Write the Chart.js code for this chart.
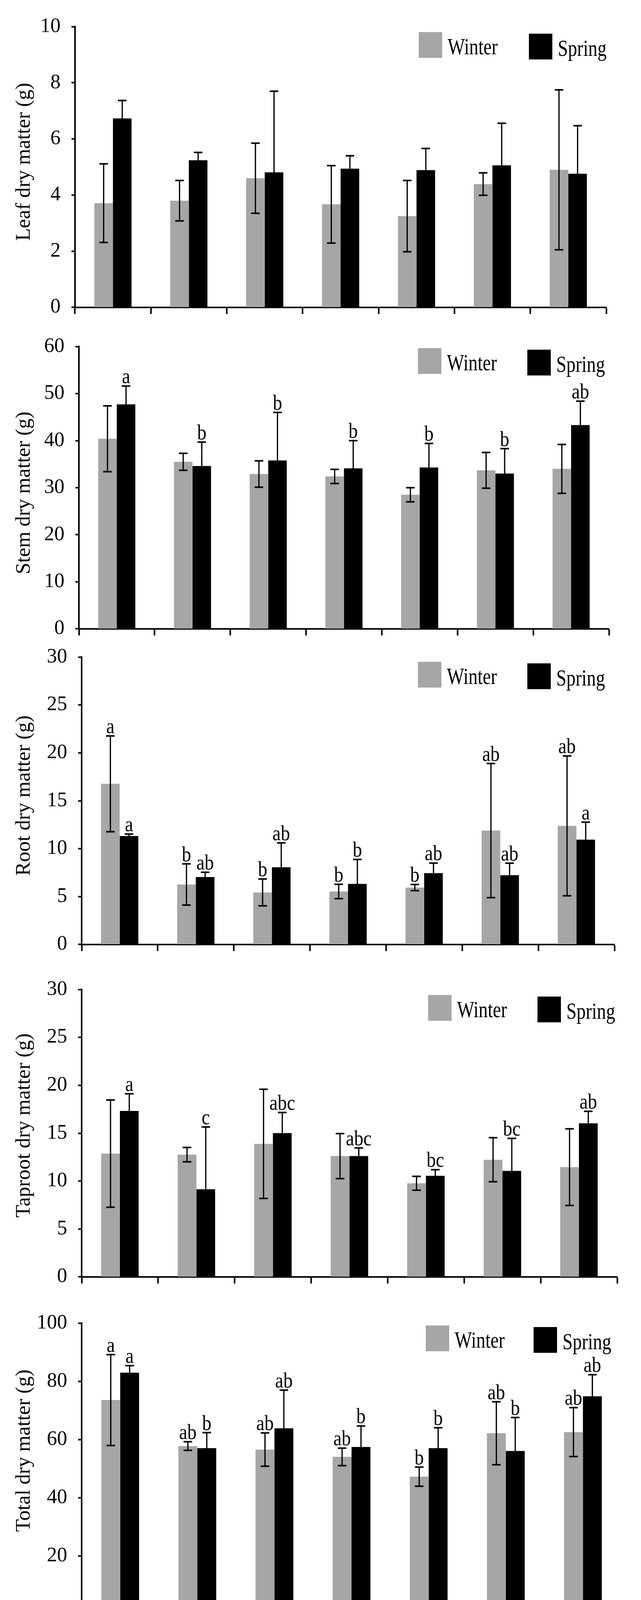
<!DOCTYPE html>
<html>
<head>
<meta charset="utf-8">
<script src="https://cdn.jsdelivr.net/npm/chart.js@4.4.1/dist/chart.umd.min.js"></script>
<style>
html,body{margin:0;padding:0;background:#fff;}
#wrap{position:relative;width:1641px;height:4266px;overflow:hidden;background:#fff;}
#wrap canvas{position:absolute;left:0;}
</style>
</head>
<body>
<div id="wrap"></div>
<script>
// ---------------- data ----------------
const categories = ['A', 'B', 'C', 'D', 'E', 'F', 'G'];
const seriesNames = ['Winter', 'Spring'];

const leafWinter     = [3.71, 3.80, 4.60, 3.67, 3.25, 4.39, 4.90];
const leafWinterErr  = [1.40, 0.72, 1.25, 1.38, 1.27, 0.40, 2.85];
const leafSpring     = [6.73, 5.24, 4.81, 4.94, 4.89, 5.06, 4.76];
const leafSpringErr  = [0.64, 0.28, 2.89, 0.46, 0.77, 1.50, 1.71];
const leafTicks      = [0, 2, 4, 6, 8, 10];

const stemWinter     = [40.4, 35.5, 32.9, 32.4, 28.5, 33.7, 34.0];
const stemWinterErr  = [7.0, 1.8, 2.8, 1.5, 1.5, 3.8, 5.2];
const stemSpring     = [47.7, 34.6, 35.8, 34.1, 34.3, 33.0, 43.3];
const stemSpringErr  = [3.9, 5.1, 10.2, 5.9, 5.1, 5.3, 5.1];
const stemSpringLetters = ['a', 'b', 'b', 'b', 'b', 'b', 'ab'];
const stemTicks      = [0, 10, 20, 30, 40, 50, 60];

const rootWinter     = [16.77, 6.26, 5.43, 5.53, 5.94, 11.89, 12.38];
const rootWinterErr  = [5.0, 2.15, 1.4, 0.75, 0.32, 7.0, 7.3];
const rootSpring     = [11.32, 7.04, 8.06, 6.32, 7.45, 7.23, 10.94];
const rootSpringErr  = [0.2, 0.5, 2.55, 2.55, 1.05, 1.25, 1.83];
const rootWinterLetters = ['a', 'b', 'b', 'b', 'b', 'ab', 'ab'];
const rootSpringLetters = ['a', 'ab', 'ab', 'b', 'ab', 'ab', 'a'];
const rootTicks      = [0, 5, 10, 15, 20, 25, 30];

const taprootWinter    = [12.87, 12.76, 13.89, 12.61, 9.77, 12.23, 11.46];
const taprootWinterErr = [5.6, 0.75, 5.7, 2.35, 0.72, 2.3, 4.0];
const taprootSpring    = [17.32, 9.15, 15.01, 12.61, 10.55, 11.06, 16.03];
const taprootSpringErr = [1.8, 6.5, 2.15, 0.85, 0.64, 3.4, 1.25];
const taprootSpringLetters = ['a', 'c', 'abc', 'abc', 'bc', 'bc', 'ab'];
const taprootTicks     = [0, 5, 10, 15, 20, 25, 30];

const totalWinter    = [73.6, 57.8, 56.6, 54.1, 47.3, 62.2, 62.6];
const totalWinterErr = [15.6, 1.5, 5.7, 3.0, 3.3, 10.8, 8.4];
const totalSpring    = [83.0, 57.1, 63.9, 57.5, 57.1, 56.1, 74.9];
const totalSpringErr = [2.4, 5.3, 13.1, 7.2, 7.0, 11.5, 7.4];
const totalWinterLetters = ['a', 'ab', 'ab', 'ab', 'b', 'ab', 'ab'];
const totalSpringLetters = ['a', 'b', 'ab', 'b', 'b', 'b', 'ab'];
const totalTicks     = [0, 20, 40, 60, 80, 100];

const yTitles = ['Leaf dry matter (g)', 'Stem dry matter (g)', 'Root dry matter (g)',
                 'Taproot dry matter (g)', 'Total dry matter (g)'];

// ---------------- panels ----------------
const panelData = [
  {w: leafWinter, we: leafWinterErr, s: leafSpring, se: leafSpringErr, wl: null, sl: null, ticks: leafTicks},
  {w: stemWinter, we: stemWinterErr, s: stemSpring, se: stemSpringErr, wl: null, sl: stemSpringLetters, ticks: stemTicks},
  {w: rootWinter, we: rootWinterErr, s: rootSpring, se: rootSpringErr, wl: rootWinterLetters, sl: rootSpringLetters, ticks: rootTicks},
  {w: taprootWinter, we: taprootWinterErr, s: taprootSpring, se: taprootSpringErr, wl: null, sl: taprootSpringLetters, ticks: taprootTicks},
  {w: totalWinter, we: totalWinterErr, s: totalSpring, se: totalSpringErr, wl: totalWinterLetters, sl: totalSpringLetters, ticks: totalTicks}
];

// layout (page pixels); lead/trail = spacing used to nudge the rotated axis title along the axis
const panelLayout = [
  {yTop: 49,   yZero: 796,  left: 192, right: 1552, xAxisH: 50,  showX: false, legTop: 14, legW: 480, legS: 198, lead: 2, trail: 0},
  {yTop: 868,  yZero: 1619, left: 202, right: 1559, xAxisH: 50,  showX: false, legTop: 4,  legW: 489, legS: 209, lead: 0, trail: 2},
  {yTop: 1663, yZero: 2427, left: 209, right: 1573, xAxisH: 50,  showX: false, legTop: 12, legW: 503, legS: 223, lead: 2, trail: 0},
  {yTop: 2514, yZero: 3278, left: 209, right: 1580, xAxisH: 50,  showX: false, legTop: 14, legW: 484, legS: 204, lead: 3, trail: 0},
  {yTop: 3368, yZero: 4133, left: 209, right: 1591, xAxisH: 133, showX: true,  legTop: 6,  legW: 501, legS: 225, lead: 7, trail: 0}
];

const FONT = 'Liberation Serif';
const GRAY = '#a6a6a6';
const NBSP = '\u00a0';

const errorBarPlugin = {
  id: 'errorBars',
  afterDatasetsDraw(chart) {
    const ctx = chart.ctx;
    const ys = chart.scales.y;
    chart.data.datasets.forEach((ds, di) => {
      const meta = chart.getDatasetMeta(di);
      meta.data.forEach((bar, i) => {
        const v = ds.data[i], e = ds.errors[i];
        const yHi = ys.getPixelForValue(v + e);
        const yLo = ys.getPixelForValue(v - e);
        const x = bar.x;
        ctx.save();
        ctx.strokeStyle = '#000';
        ctx.lineWidth = 3.2;
        ctx.beginPath();
        ctx.moveTo(x, yLo); ctx.lineTo(x, yHi);
        ctx.stroke();
        ctx.lineWidth = 4;
        ctx.beginPath();
        ctx.moveTo(x - 11, yHi); ctx.lineTo(x + 11, yHi);
        ctx.moveTo(x - 11, yLo); ctx.lineTo(x + 11, yLo);
        ctx.stroke();
        const L = ds.letters ? ds.letters[i] : '';
        if (L) {
          ctx.fillStyle = '#000';
          ctx.font = '54px "' + FONT + '"';
          ctx.textAlign = 'center';
          ctx.textBaseline = 'alphabetic';
          ctx.translate(x, yHi - 7);
          ctx.scale(0.88, 1);
          ctx.fillText(L, 0, 0);
        }
        ctx.restore();
      });
    });
  }
};

// legend with boxes placed inside the plot area, top right
const boxLegendPlugin = {
  id: 'boxLegend',
  afterDraw(chart, args, opts) {
    const ctx = chart.ctx;
    const ca = chart.chartArea;
    const offs = [opts.winterOffset, opts.springOffset];
    chart.data.datasets.forEach((ds, di) => {
      const bx = ca.right - offs[di];
      const by = ca.top + opts.top + (di === 1 ? 4 : 0);
      ctx.save();
      ctx.fillStyle = ds.backgroundColor;
      ctx.fillRect(bx, by, 60, 66);
      ctx.fillStyle = '#000';
      ctx.font = '60px "' + FONT + '"';
      ctx.textAlign = 'left';
      ctx.textBaseline = 'alphabetic';
      ctx.translate(bx + 74, by + 57);
      ctx.scale(0.78, 1);
      ctx.fillText(ds.label, 0, 0);
      ctx.restore();
    });
  }
};

const wrap = document.getElementById('wrap');

panelData.forEach((pd, pi) => {
  const lay = panelLayout[pi];
  const topPad = 40;
  const canvasTop = lay.yTop - topPad;
  const canvasH = (lay.yZero - canvasTop) + lay.xAxisH;
  const cv = document.createElement('canvas');
  cv.width = 1641;
  cv.height = canvasH;
  cv.style.width = '1641px';
  cv.style.height = canvasH + 'px';
  cv.style.top = canvasTop + 'px';
  wrap.appendChild(cv);

  const tks = pd.ticks;
  const titleText = NBSP.repeat(lay.lead) + yTitles[pi] + NBSP.repeat(lay.trail);
  new Chart(cv.getContext('2d'), {
    type: 'bar',
    data: {
      labels: categories,
      datasets: [
        {label: seriesNames[0], data: pd.w, errors: pd.we, letters: pd.wl,
         backgroundColor: GRAY, borderWidth: 0, categoryPercentage: 0.49, barPercentage: 1.0},
        {label: seriesNames[1], data: pd.s, errors: pd.se, letters: pd.sl,
         backgroundColor: '#000', borderWidth: 0, categoryPercentage: 0.49, barPercentage: 1.0}
      ]
    },
    options: {
      responsive: false,
      maintainAspectRatio: false,
      animation: false,
      devicePixelRatio: 1,
      layout: {padding: {top: topPad, bottom: 0, left: 0, right: 1641 - lay.right}},
      plugins: {
        tooltip: {enabled: false},
        legend: {display: false},
        boxLegend: {top: lay.legTop, winterOffset: lay.legW, springOffset: lay.legS}
      },
      scales: {
        x: {
          type: 'category',
          offset: true,
          grid: {display: true, drawOnChartArea: false, drawTicks: true, tickLength: 17,
                 tickWidth: 4, tickColor: '#000', offset: true},
          border: {display: true, color: '#000', width: 4},
          ticks: {
            color: '#000', font: {family: FONT, size: 54}, padding: 19, maxRotation: 0,
            callback(value, index) { return lay.showX ? categories[index] : ''; }
          },
          afterFit(scale) { scale.height = lay.xAxisH; }
        },
        y: {
          min: tks[0],
          max: tks[tks.length - 1],
          afterBuildTicks(scale) { scale.ticks = tks.map(v => ({value: v})); },
          grid: {display: true, drawOnChartArea: false, drawTicks: true, tickLength: 9,
                 tickWidth: 4, tickColor: '#000'},
          border: {display: true, color: '#000', width: 4},
          ticks: {color: '#000', font: {family: FONT, size: 52}, padding: 28},
          title: {display: true, text: titleText, color: '#000',
                  font: {family: FONT, size: 53}, padding: {top: 30, bottom: 0}},
          afterFit(scale) { scale.width = lay.left; }
        }
      }
    },
    plugins: [errorBarPlugin, boxLegendPlugin]
  });
});
</script>
</body>
</html>
